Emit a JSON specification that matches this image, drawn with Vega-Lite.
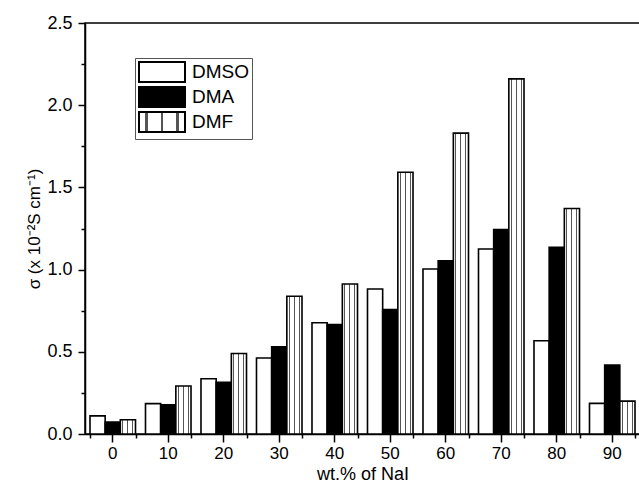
{
  "$schema": "https://vega.github.io/schema/vega-lite/v6.json",
  "autosize": "none",
  "padding": {"left": 85, "top": 23, "right": 0, "bottom": 52},
  "width": 555,
  "height": 411,
  "background": "white",
  "data": {
    "values": [
      {"nai": 0, "solvent": "DMSO", "sigma": 0.11},
      {"nai": 0, "solvent": "DMA", "sigma": 0.072},
      {"nai": 0, "solvent": "DMF", "sigma": 0.087},
      {"nai": 10, "solvent": "DMSO", "sigma": 0.185},
      {"nai": 10, "solvent": "DMA", "sigma": 0.178},
      {"nai": 10, "solvent": "DMF", "sigma": 0.292},
      {"nai": 20, "solvent": "DMSO", "sigma": 0.336},
      {"nai": 20, "solvent": "DMA", "sigma": 0.314},
      {"nai": 20, "solvent": "DMF", "sigma": 0.49},
      {"nai": 30, "solvent": "DMSO", "sigma": 0.462},
      {"nai": 30, "solvent": "DMA", "sigma": 0.531},
      {"nai": 30, "solvent": "DMF", "sigma": 0.838},
      {"nai": 40, "solvent": "DMSO", "sigma": 0.677},
      {"nai": 40, "solvent": "DMA", "sigma": 0.665},
      {"nai": 40, "solvent": "DMF", "sigma": 0.912},
      {"nai": 50, "solvent": "DMSO", "sigma": 0.882},
      {"nai": 50, "solvent": "DMA", "sigma": 0.757},
      {"nai": 50, "solvent": "DMF", "sigma": 1.592},
      {"nai": 60, "solvent": "DMSO", "sigma": 1.004},
      {"nai": 60, "solvent": "DMA", "sigma": 1.054},
      {"nai": 60, "solvent": "DMF", "sigma": 1.83},
      {"nai": 70, "solvent": "DMSO", "sigma": 1.125},
      {"nai": 70, "solvent": "DMA", "sigma": 1.243},
      {"nai": 70, "solvent": "DMF", "sigma": 2.16},
      {"nai": 80, "solvent": "DMSO", "sigma": 0.567},
      {"nai": 80, "solvent": "DMA", "sigma": 1.135},
      {"nai": 80, "solvent": "DMF", "sigma": 1.372},
      {"nai": 90, "solvent": "DMSO", "sigma": 0.186},
      {"nai": 90, "solvent": "DMA", "sigma": 0.42},
      {"nai": 90, "solvent": "DMF", "sigma": 0.2}
    ]
  },
  "layer": [
    {
      "mark": {"type": "bar", "stroke": "black", "strokeWidth": 1.6, "opacity": 1},
      "encoding": {
        "x": {
          "field": "nai", "type": "ordinal",
          "scale": {"paddingInner": 0.18, "paddingOuter": 0.09},
          "axis": {
            "orient": "bottom",
            "title": "wt.% of NaI",
            "labelAngle": 0,
            "tickSize": 8,
            "labelPadding": 3,
            "titlePadding": 4,
            "labelFontSize": 17,
            "titleFontSize": 18
          }
        },
        "xOffset": {"field": "solvent", "type": "nominal", "sort": ["DMSO", "DMA", "DMF"]},
        "y": {
          "field": "sigma", "type": "quantitative",
          "scale": {"domain": [0, 2.5], "nice": false, "zero": true},
          "axis": {
            "orient": "left",
            "title": "σ (x 10⁻²S cm⁻¹)",
            "values": [0, 0.5, 1, 1.5, 2, 2.5],
            "format": ".1f",
            "tickSize": 7,
            "labelPadding": 6,
            "titlePadding": 3,
            "labelFontSize": 18,
            "titleFontSize": 17
          }
        },
        "fill": {
          "field": "solvent", "type": "nominal",
          "sort": ["DMSO", "DMA", "DMF"],
          "scale": {
            "domain": ["DMSO", "DMA", "DMF"],
            "range": [
              "white",
              "black",
              {"expr": "{gradient: 'linear', x1: 0, y1: 0, x2: 1, y2: 0, stops: [{offset: 0, color: 'white'}, {offset: 0.14, color: 'white'}, {offset: 0.14, color: '#555'}, {offset: 0.2, color: '#555'}, {offset: 0.2, color: 'white'}, {offset: 0.47, color: 'white'}, {offset: 0.47, color: '#555'}, {offset: 0.53, color: '#555'}, {offset: 0.53, color: 'white'}, {offset: 0.8, color: 'white'}, {offset: 0.8, color: '#555'}, {offset: 0.86, color: '#555'}, {offset: 0.86, color: 'white'}, {offset: 1, color: 'white'}]}"}
            ]
          },
          "legend": {
            "orient": "none",
            "legendX": 50,
            "legendY": 35,
            "title": null,
            "symbolType": "M-2.3,-1H2.3V1H-2.3Z",
            "symbolSize": 400,
            "symbolStrokeColor": "black",
            "symbolStrokeWidth": 2,
            "symbolOpacity": 1,
            "symbolOffset": 13,
            "labelOffset": 19,
            "labelFontSize": 19,
            "labelFont": "Liberation Sans",
            "labelColor": "black",
            "rowPadding": -6,
            "padding": 3,
            "strokeColor": "#555",
            "fillColor": "white"
          }
        }
      }
    },
    {
      "mark": {"type": "bar", "opacity": 0},
      "encoding": {
        "x": {
          "field": "nai", "type": "ordinal",
          "axis": {
            "orient": "bottom",
            "title": null,
            "labels": false,
            "tickBand": "extent",
            "tickSize": 4,
            "domain": false
          }
        },
        "y": {
          "field": "sigma", "type": "quantitative",
          "axis": {
            "orient": "left",
            "title": null,
            "labels": false,
            "values": [0.25, 0.75, 1.25, 1.75, 2.25],
            "tickSize": 4,
            "domain": false
          }
        }
      }
    }
  ],
  "resolve": {"axis": {"x": "independent", "y": "independent"}},
  "config": {
    "font": "Liberation Sans",
    "view": {"stroke": "black", "strokeWidth": 1.5},
    "axis": {
      "grid": false,
      "domainColor": "black",
      "domainWidth": 1.5,
      "tickColor": "black",
      "tickWidth": 1.5,
      "labelColor": "black",
      "titleColor": "black",
      "labelFont": "Liberation Sans",
      "titleFont": "Liberation Sans",
      "titleFontWeight": "normal"
    }
  }
}
